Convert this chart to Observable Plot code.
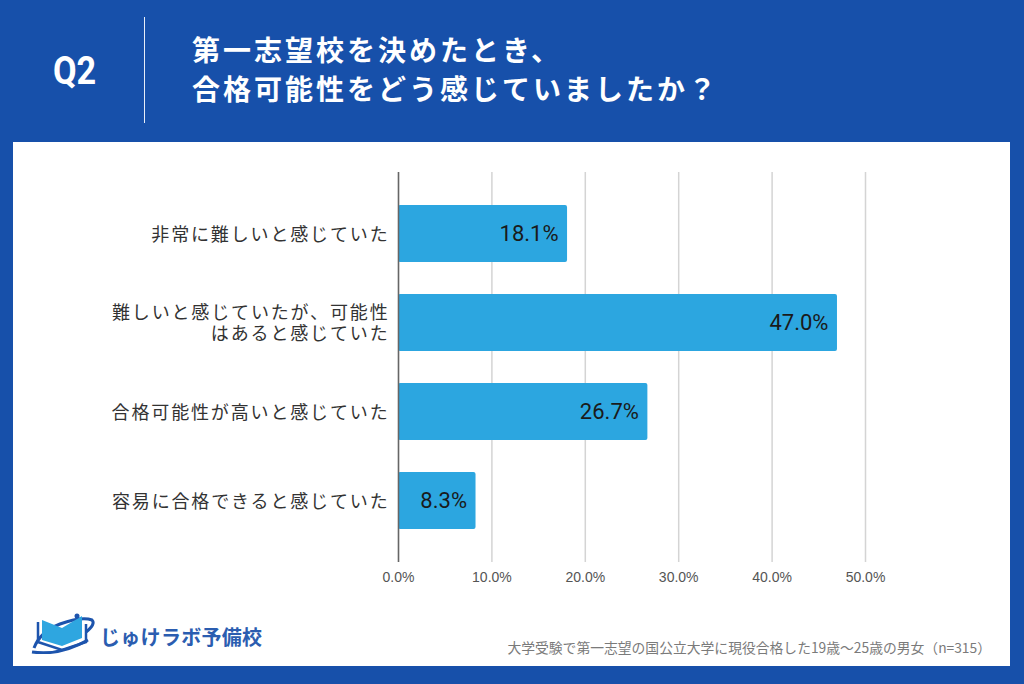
<!DOCTYPE html>
<html><head><meta charset="utf-8">
<script src="https://cdn.jsdelivr.net/npm/d3@7"></script>
<script src="https://cdn.jsdelivr.net/npm/@observablehq/plot@0.6"></script>
<style>
html,body{margin:0;padding:0;}
body{width:1024px;height:684px;background:#1750aa;position:relative;overflow:hidden;font-family:"Noto Sans CJK JP","Noto Sans",sans-serif;}
#q{position:absolute;left:53px;top:49px;color:#fff;font:bold 38px "Roboto","Noto Sans",sans-serif;transform:scaleX(0.9);transform-origin:left top;}
#vline{position:absolute;left:144px;top:17px;width:1px;height:106px;background:#e8eef8;}
#title{position:absolute;left:192px;top:30px;color:#fff;font:bold 28px/39px "Noto Sans CJK JP",sans-serif;letter-spacing:3px;}
#panel{position:absolute;left:13px;top:142px;width:997px;height:524px;background:#fff;}
#chart{position:absolute;left:13px;top:142px;}
#logo{position:absolute;left:30px;top:610px;}
#logotext{position:absolute;left:100px;top:622px;color:#2b5db0;font:bold 20px "Noto Sans CJK JP",sans-serif;letter-spacing:0.3px;}
#caption{position:absolute;right:33px;top:637px;color:#7a7a7a;font:13.8px "Noto Sans CJK JP",sans-serif;}
</style></head>
<body>
<div id="q">Q2</div>
<div id="vline"></div>
<div id="title">第一志望校を決めたとき、<br>合格可能性をどう感じていましたか？</div>
<div id="panel"></div>
<div id="chart"></div>
<svg id="logo" width="68" height="44" viewBox="0 0 68 44">
  <path d="M4 38 Q10 22 30 14 Q52 6 62 10 Q66 14 56 22" fill="none" stroke="#1d54ad" stroke-width="3"/>
  <path d="M12 10 L32 18 L32 36 L12 30 Z" fill="#2ea6e0"/>
  <path d="M52 6 L32 18 L32 36 L52 28 Z" fill="#2ea6e0"/>
  <path d="M8 12 L8 32 L32 40 L56 32 L56 14" fill="none" stroke="#1d54ad" stroke-width="2.5"/>
  <circle cx="47" cy="6" r="2.5" fill="#1d54ad"/>
  <path d="M2 42 Q30 46 58 30" fill="none" stroke="#1d54ad" stroke-width="3"/>
</svg>
<div id="logotext">じゅけラボ予備校</div>
<div id="caption">大学受験で第一志望の国公立大学に現役合格した19歳～25歳の男女（n=315）</div>
<script>
const categories = [
  "非常に難しいと感じていた",
  "難しいと感じていたが、可能性\nはあると感じていた",
  "合格可能性が高いと感じていた",
  "容易に合格できると感じていた"
];
const values = [18.1, 47.0, 26.7, 8.3];
const xTicks = [0, 10, 20, 30, 40, 50];

const data = categories.map((c, i) => ({category: c, value: values[i]}));

const chart = Plot.plot({
  width: 997,
  height: 460,
  marginLeft: 385,
  marginRight: 145,
  marginTop: 30,
  marginBottom: 40,
  style: {background: "transparent", fontFamily: "'Noto Sans CJK JP', sans-serif"},
  x: {domain: [0, 50], ticks: xTicks, label: null, tickFormat: d => d.toFixed(1) + "%"},
  y: {domain: categories, label: null, padding: 0.36},
  marks: [
    Plot.gridX(xTicks, {stroke: "#d4d4d4", strokeOpacity: 1, strokeWidth: 1.5}),
    Plot.axisX({ticks: xTicks, tickSize: 0, tickPadding: 10, fontSize: 14, fill: "#555",
      fontFamily: "'Liberation Sans', Arial, sans-serif", label: null,
      tickFormat: d => d.toFixed(1) + "%"}),
    Plot.axisY({tickSize: 0, tickPadding: 9, fontSize: 18, fill: "#333",
      fontFamily: "'Noto Sans CJK JP', sans-serif", label: null, lineHeight: 1.16}),
    Plot.barX(data, {x: "value", y: "category", fill: "#2ca6e0", rx: 2}),
    Plot.ruleX([0], {stroke: "#666", strokeWidth: 1.5}),
    Plot.text(data, {x: "value", y: "category", text: d => d.value.toFixed(1) + "%",
      textAnchor: "end", dx: -9, fontSize: 22, fill: "#1a1a1a",
      fontFamily: "Roboto, sans-serif"})
  ]
});
chart.querySelectorAll('g[aria-label="y-axis tick label"] text').forEach(t => t.setAttribute("letter-spacing", "1.85"));
document.getElementById("chart").appendChild(chart);
</script>
</body></html>
